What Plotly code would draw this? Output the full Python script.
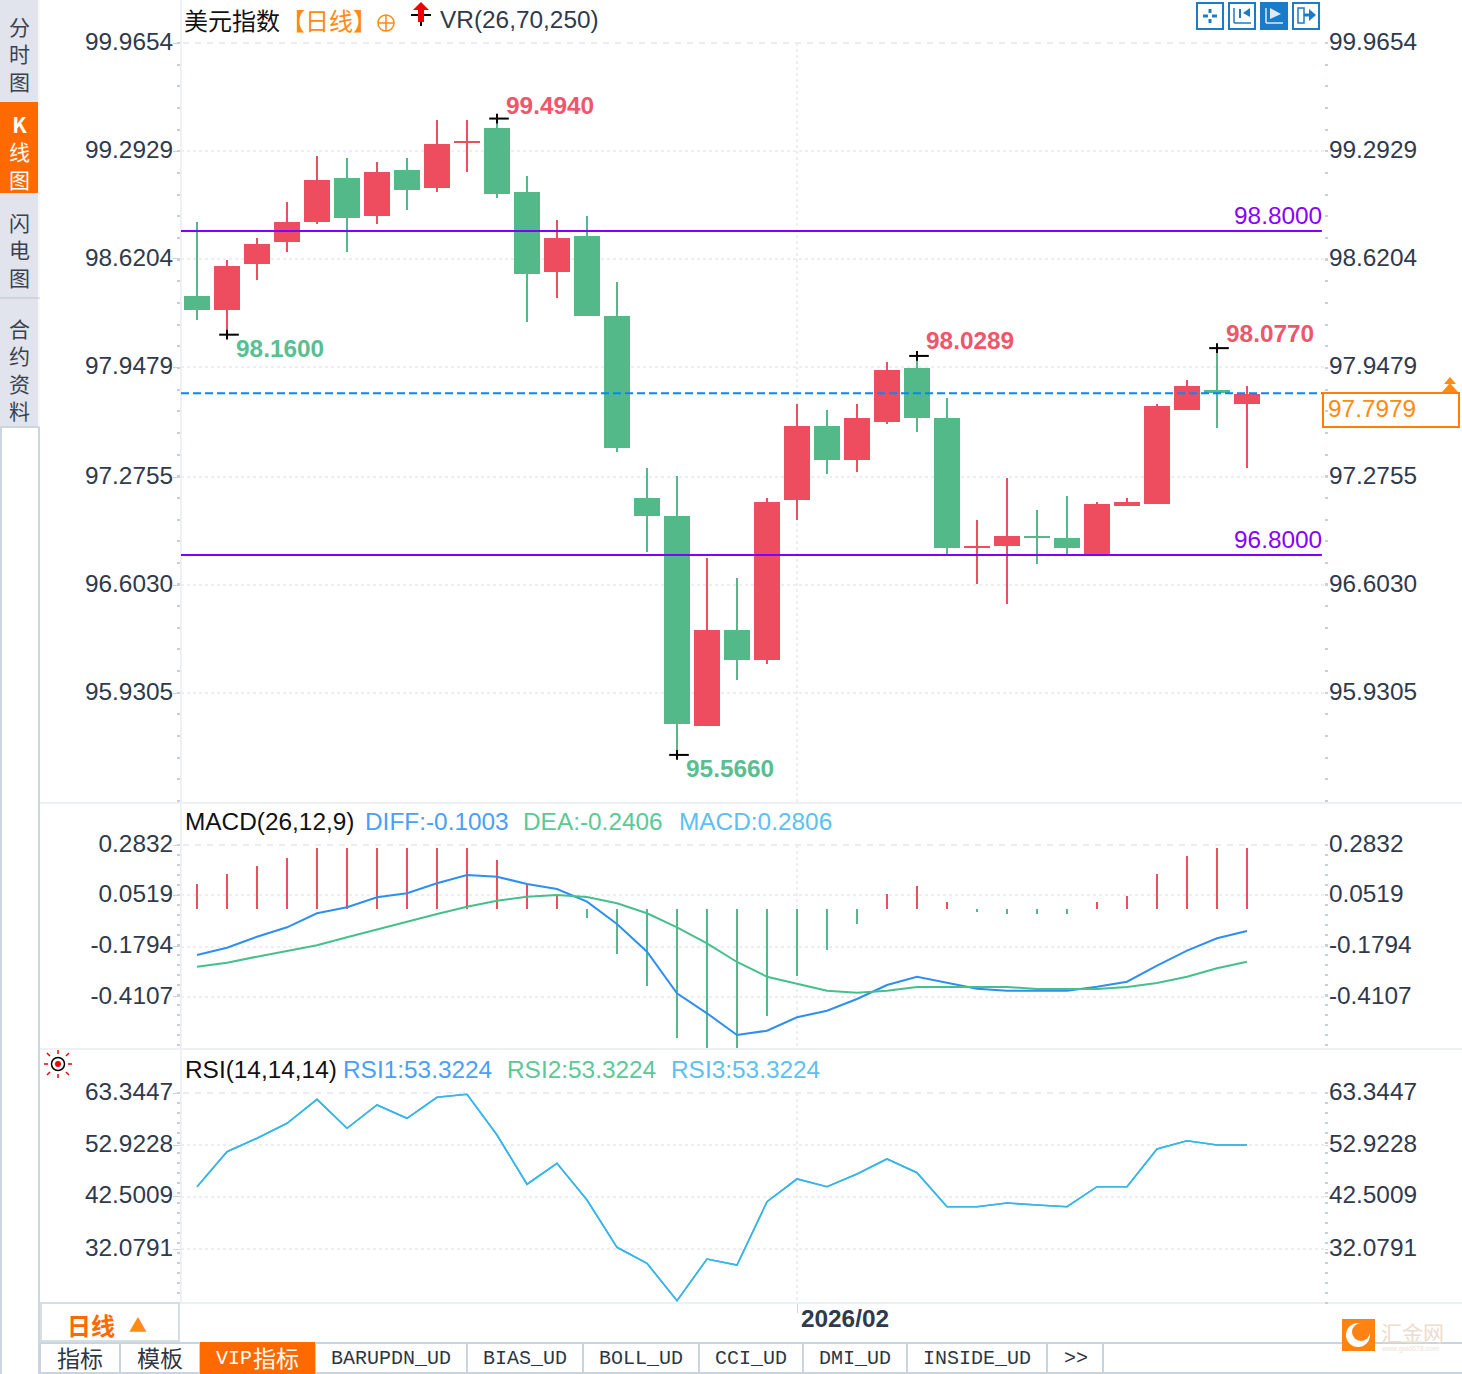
import plotly.graph_objects as go

W, H = 1462, 1374
ORANGE = "#ff6a00"
RED = "#ed4d5f"
GREEN = "#53b988"
TXT = "#2f3a4d"
SANS = "Liberation Sans, Arial, sans-serif"
CJK = "Noto Sans CJK SC, sans-serif"
MONO = "Liberation Mono, monospace"

# ---------- data ----------
idx = list(range(36))
opens = [98.3926,98.3185,98.6025,98.7383,98.8617,99.1210,98.8988,99.1704,99.0716,99.3488,99.4296,99.0346,98.5531,98.7630,98.2691,97.1457,97.0346,95.7506,96.3309,96.1580,97.1457,97.5901,97.3926,97.6272,97.9481,97.6395,96.8488,96.8617,96.9117,96.8988,96.8062,97.1086,97.1210,97.7012,97.8123,97.7383]
highs = [98.8556,98.6210,98.7568,98.9790,99.2630,99.2506,99.2259,99.2506,99.4852,99.4852,99.4940,99.1395,98.8679,98.8926,98.4852,97.3370,97.2877,96.7815,96.6580,97.1519,97.7321,97.6951,97.7321,97.9914,98.0289,97.7691,97.0160,97.2753,97.0778,97.1642,97.1272,97.1519,97.7321,97.8802,98.0770,97.8432]
lows = [98.2506,98.1600,98.4975,98.6704,98.8432,98.6704,98.8432,98.9296,99.0407,99.1642,99.0037,98.2383,98.3864,98.2815,97.4358,96.8185,95.5660,95.7444,96.0284,96.1272,97.0160,97.3000,97.3123,97.6086,97.5593,96.8000,96.6210,96.4975,96.7444,96.8000,96.8062,97.1086,97.1210,97.7012,97.5840,97.3370]
closes = [98.3185,98.5778,98.7136,98.8494,99.1086,98.8864,99.1580,99.0593,99.3309,99.3500,99.0346,98.5407,98.7506,98.2815,97.4667,97.0469,95.7630,96.3309,96.1580,97.1210,97.5901,97.3926,97.6395,97.9358,97.6519,96.8494,96.8500,96.9111,96.9105,96.8494,97.1086,97.1210,97.7136,97.8370,97.8062,97.7877]
level_lines = [98.8, 96.8]
last_price = 97.7979
extreme_idx = [1, 10, 16, 24, 34]
extreme_val = [98.1600, 99.4940, 95.5660, 98.0289, 98.0770]
price_tick_text = ["99.9654","99.2929","98.6204","97.9479","97.2755","96.6030","95.9305"]
price_tick_pos = [99.9605,99.2938,98.6272,97.9605,97.2815,96.6148,95.9481]

macd_hist = [0.1142,0.1598,0.1963,0.2329,0.2785,0.2785,0.2785,0.2785,0.2785,0.2785,0.2237,0.1142,0.0639,-0.0411,-0.2055,-0.3516,-0.5890,-0.6347,-0.6347,-0.4886,-0.3059,-0.1872,-0.0685,0.0685,0.1050,0.0320,-0.0137,-0.0228,-0.0228,-0.0228,0.0320,0.0594,0.1598,0.2420,0.2785,0.2785]
diff = [-0.2100,-0.1767,-0.1265,-0.0836,-0.0196,0.0078,0.0534,0.0717,0.1174,0.1553,0.1475,0.1142,0.0913,0.0333,-0.0685,-0.1950,-0.3849,-0.4763,-0.5753,-0.5557,-0.4945,-0.4644,-0.4110,-0.3470,-0.3091,-0.3365,-0.3639,-0.3731,-0.3731,-0.3731,-0.3548,-0.3320,-0.2589,-0.1904,-0.1338,-0.1003]
dea = [-0.2635,-0.2452,-0.2178,-0.1918,-0.1658,-0.1292,-0.0927,-0.0580,-0.0228,0.0105,0.0379,0.0562,0.0639,0.0548,0.0260,-0.0196,-0.0836,-0.1566,-0.2420,-0.3091,-0.3425,-0.3731,-0.3822,-0.3731,-0.3562,-0.3562,-0.3562,-0.3562,-0.3653,-0.3653,-0.3653,-0.3562,-0.3379,-0.3091,-0.2708,-0.2406]
macd_tick_text = ["0.2832","0.0519","-0.1794","-0.4107"]
macd_tick_pos = [0.2922,0.0639,-0.1721,-0.4018]

rsi = [44.97,51.98,54.67,57.67,62.48,56.67,61.34,58.67,62.88,63.48,55.33,45.45,49.66,42.30,32.82,29.61,22.12,30.47,29.27,41.96,46.51,44.97,47.51,50.52,47.77,40.96,40.96,41.70,41.30,40.96,44.97,44.97,52.52,54.18,53.32,53.32]
rsi_tick_text = ["63.3447","52.9228","42.5009","32.0791"]
rsi_tick_pos = [63.743,53.3224,42.96,32.48]

bottom_tabs = ["BARUPDN_UD","BIAS_UD","BOLL_UD","CCI_UD","DMI_UD","INSIDE_UD",">>"]
bottom_tab_cx = [391,525,641,751,855,977,1076]
bottom_seps = [40,120,200,315,467,583,699,803,907,1047,1103]

# ---------- helpers ----------
X = lambda p: p / W
Y = lambda p: 1 - p / H
shapes, anns = [], []

def rect(x0, y0, x1, y1, fill=None, line=None, lw=0, layer="above"):
    shapes.append(dict(type="rect", xref="paper", yref="paper", x0=X(x0), x1=X(x1), y0=Y(y0), y1=Y(y1),
                       fillcolor=fill or "rgba(0,0,0,0)", line=dict(color=line or "rgba(0,0,0,0)", width=lw), layer=layer))

def seg(x0, y0, x1, y1, color, lw=1, dash=None, layer="above"):
    shapes.append(dict(type="line", xref="paper", yref="paper", x0=X(x0), x1=X(x1), y0=Y(y0), y1=Y(y1),
                       line=dict(color=color, width=lw, dash=dash or "solid"), layer=layer))

def circ(cx, cy, r, fill=None, line=None, lw=0):
    shapes.append(dict(type="circle", xref="paper", yref="paper", x0=X(cx-r), x1=X(cx+r), y0=Y(cy+r), y1=Y(cy-r),
                       fillcolor=fill or "rgba(0,0,0,0)", line=dict(color=line or "rgba(0,0,0,0)", width=lw)))

def poly(points, fill):
    path = "M " + " L ".join(f"{X(a):.5f},{Y(b):.5f}" for a, b in points) + " Z"
    shapes.append(dict(type="path", xref="paper", yref="paper", path=path, fillcolor=fill, line=dict(width=0)))

def text(t, x, y, color=TXT, size=24.4, font=SANS, anchor="left"):
    anns.append(dict(text=t, xref="paper", yref="paper", x=X(x), y=Y(y), xanchor=anchor, yanchor="middle",
                     showarrow=False, font=dict(family=font, size=size, color=color), borderpad=0, borderwidth=0))

# ---------- axis geometry ----------
XL, XR = 181, 1324
x_rng = [(XL - 197) / 30, (XR - 197) / 30]
dom = lambda a, b: [1 - b / H, 1 - a / H]
main_dom, macd_dom, rsi_dom = dom(43, 802), dom(845, 1049), dom(1093, 1303)
main_rng = [95.2753, 99.9605]
macd_rng = [-0.6393, 0.2922]
rsi_rng = [21.659, 63.743]
GRID = "#eceef2"

fig = go.Figure()
fig.add_trace(go.Candlestick(
    x=idx, open=opens, high=highs, low=lows, close=closes, xaxis="x", yaxis="y", whiskerwidth=0,
    increasing=dict(line=dict(color=RED, width=2), fillcolor=RED),
    decreasing=dict(line=dict(color=GREEN, width=2), fillcolor=GREEN), showlegend=False, hoverinfo="skip"))
fig.add_trace(go.Scatter(x=[i + 0.067 for i in extreme_idx], y=extreme_val, mode="markers", xaxis="x", yaxis="y",
                         marker=dict(symbol="line-ew", size=14, line=dict(color="#000000", width=2)),
                         showlegend=False, hoverinfo="skip"))
fig.add_trace(go.Scatter(x=extreme_idx, y=extreme_val, mode="markers", xaxis="x", yaxis="y",
                         marker=dict(symbol="line-ns", size=7, line=dict(color="#000000", width=2)),
                         showlegend=False, hoverinfo="skip"))
for lv in level_lines:
    fig.add_trace(go.Scatter(x=[x_rng[0], x_rng[1] - 0.07], y=[lv, lv], mode="lines", xaxis="x", yaxis="y2",
                             line=dict(color="#8000ff", width=2), showlegend=False, hoverinfo="skip"))
fig.add_trace(go.Scatter(x=x_rng, y=[last_price, last_price], mode="lines", xaxis="x", yaxis="y2",
                         line=dict(color="#0a84ff", width=2, dash="8px,4px"), showlegend=False, hoverinfo="skip"))

fig.add_trace(go.Bar(x=idx, y=macd_hist, width=0.067, xaxis="x2", yaxis="y3",
                     marker=dict(color=[RED if v > 0 else GREEN for v in macd_hist], line=dict(width=0)),
                     showlegend=False, hoverinfo="skip"))
fig.add_trace(go.Scatter(x=idx, y=diff, mode="lines", xaxis="x2", yaxis="y3",
                         line=dict(color="#2e8ff0", width=2), showlegend=False, hoverinfo="skip"))
fig.add_trace(go.Scatter(x=idx, y=dea, mode="lines", xaxis="x2", yaxis="y4",
                         line=dict(color="#45c08a", width=2), showlegend=False, hoverinfo="skip"))
fig.add_trace(go.Scatter(x=idx, y=rsi, mode="lines", xaxis="x3", yaxis="y5",
                         line=dict(color="#38b5e8", width=1.6), showlegend=False, hoverinfo="skip"))
fig.add_trace(go.Scatter(x=idx, y=rsi, mode="lines", xaxis="x3", yaxis="y6",
                         line=dict(color="#38b5e8", width=1.6), showlegend=False, hoverinfo="skip"))

def xax(anchor, **kw):
    return dict(domain=[X(XL), X(XR)], range=x_rng, anchor=anchor, fixedrange=True, tickmode="array", tickvals=[20],
                ticktext=[""], showgrid=True, griddash="dot", gridcolor=GRID, gridwidth=2, ticks="", zeroline=False,
                showline=False, rangeslider=dict(visible=False), **kw)

def yax(domain, rng, ticktext, tickpos, minor_d, side, anchor, overlay=None):
    a = dict(domain=domain, range=rng, tickmode="array", tickvals=tickpos, ticktext=ticktext, side=side, anchor=anchor,
             fixedrange=True, zeroline=False, showline=False, showgrid=(side == "left"), griddash="dot", gridcolor=GRID,
             gridwidth=2, ticks="outside", ticklen=7 if side == "left" else 3, tickcolor="#ccd3da", tickwidth=1,
             ticklabelshift=-2, ticklabelstandoff=-5 if side == "left" else -4,
             tickfont=dict(family=SANS, size=24.4, color=TXT),
             minor=dict(ticks="outside", ticklen=3, tickwidth=2, tickcolor="#c8cfd7", tick0=tickpos[0], dtick=minor_d, showgrid=False))
    if overlay:
        a["overlaying"] = overlay
    return a

fig.update_layout(
    width=W, height=H, margin=dict(l=0, r=0, t=0, b=0, autoexpand=False), paper_bgcolor="#ffffff", plot_bgcolor="rgba(0,0,0,0)",
    showlegend=False, boxmode="overlay", boxgap=0.2, boxgroupgap=0, bargap=0, barmode="overlay",
    xaxis=xax("y", showticklabels=False),
    xaxis2=xax("y3", showticklabels=False),
    xaxis3=dict(domain=[X(XL), X(XR)], range=x_rng, anchor="y5", fixedrange=True, tickmode="array", tickvals=[20],
                ticktext=["<b>2026/02</b>"], showgrid=True, griddash="dot", gridcolor=GRID, gridwidth=2, zeroline=False,
                showline=False, ticks="outside", ticklen=9, tickcolor="#ccd3da", ticklabelshift=48, ticklabelstandoff=-15,
                tickfont=dict(family=SANS, size=24.4, color=TXT)),
    yaxis=yax(main_dom, main_rng, price_tick_text, price_tick_pos, 0.1337, "left", "x"),
    yaxis2=yax(main_dom, main_rng, price_tick_text, price_tick_pos, 0.1337, "right", "x", "y"),
    yaxis3=yax(macd_dom, macd_rng, macd_tick_text, macd_tick_pos, 0.0457, "left", "x2"),
    yaxis4=yax(macd_dom, macd_rng, macd_tick_text, macd_tick_pos, 0.0457, "right", "x2", "y3"),
    yaxis5=yax(rsi_dom, rsi_rng, rsi_tick_text, rsi_tick_pos, 2.004, "left", "x3"),
    yaxis6=yax(rsi_dom, rsi_rng, rsi_tick_text, rsi_tick_pos, 2.004, "right", "x3", "y5"),
)

# ---------- panel frame ----------
FRAME = "#edf1f5"
seg(181, 0, 181, 1303, FRAME, 2, layer="below")
for py in (803, 1049, 1303):
    seg(40, py, W, py, FRAME, 2, layer="below")
for py in (43, 845, 1093):
    seg(183, py, 1321, py, "#eaeef2", 2, dash="6px,6px", layer="below")

# ---------- value labels on the price chart ----------
offs = {1: (7, -14, "#58bf92"), 10: (7, 13, "#f0566a"), 16: (7, -14, "#58bf92"), 24: (7, 15, "#f0566a"), 34: (7, 15, "#f0566a")}
for i, v in zip(extreme_idx, extreme_val):
    dx, dy, col = offs[i]
    anns.append(dict(text=f"<b>{v:.4f}</b>", xref="x", yref="y", x=i, y=v, xanchor="left", yanchor="middle", xshift=dx, yshift=dy,
                     showarrow=False, font=dict(family=SANS, size=24.4, color=col)))
for lv, cy in zip(level_lines, (215, 539)):
    text(f"{lv:.4f}", 1322, cy, "#8a00ff", anchor="right")

# last price box
rect(1323, 393, 1459, 427, None, "#ff7f0a", 2)
text(f"{last_price:.4f}", 1328, 409, "#ff8a14")
poly([(1450, 377), (1456, 384), (1444, 384)], "#ff8a14")
poly([(1450, 383), (1458, 392), (1442, 392)], "#ff8a14")

# ---------- header texts ----------
text("美元指数", 184, 19, "#111111", 24, CJK)
text("【日线】", 281, 19, "#ff8a14", 24, CJK)
circ(386, 23, 8, None, "#ff8a14", 1.5)
seg(378, 23, 394, 23, "#ff8a14", 1.5)
seg(386, 15, 386, 31, "#ff8a14", 1.5)
seg(411, 15, 431, 15, "#000000", 2)
seg(421, 15, 421, 26, "#000000", 2)
poly([(421, 2), (429, 10), (424, 10), (424, 22), (418, 22), (418, 10), (413, 10)], "#f00000")
text("VR(26,70,250)", 440, 19, TXT)

text("MACD(26,12,9)", 185, 821, "#111111")
text("DIFF:-0.1003", 365, 821, "#4aa0f5")
text("DEA:-0.2406", 523, 821, "#5cc896")
text("MACD:0.2806", 679, 821, "#5cc0f0")
text("RSI(14,14,14)", 185, 1069, "#111111")
text("RSI1:53.3224", 343, 1069, "#4aa0f5")
text("RSI2:53.3224", 507, 1069, "#5cc896")
text("RSI3:53.3224", 671, 1069, "#5cc0f0")

# ---------- buttons top right ----------
BTN = "#1a7cc8"
for i, x0 in enumerate((1197, 1229, 1261, 1293)):
    rect(x0, 3, x0 + 26, 29, BTN if i == 2 else "#ffffff", BTN, 2)
c = 1210
for a, b, d, e in ((c-7, 16, c-2, 16), (c+2, 16, c+7, 16), (c, 9, c, 13), (c, 19, c, 23)):
    seg(a, b, d, e, BTN, 3)
seg(1234, 8, 1234, 23, BTN, 1.5); seg(1234, 23, 1251, 23, BTN, 1.5)
seg(1240, 9, 1240, 18, BTN, 2); poly([(1250, 8), (1250, 17), (1243, 13)], BTN)
seg(1266, 8, 1266, 23, "#dcebf7", 1.5); seg(1266, 23, 1283, 23, "#dcebf7", 1.5)
poly([(1270, 8), (1270, 19), (1281, 14)], "#dcebf7")
rect(1298, 8, 1304, 23, None, BTN, 1.5)
seg(1304, 15, 1310, 15, BTN, 3); poly([(1309, 9), (1309, 21), (1316, 15)], BTN)

# ---------- left sidebar ----------
rect(0, 0, 38, 427, "#e1e4ec", layer="below")
rect(0, 102, 38, 193, ORANGE)
seg(0, 298, 40, 298, "#ced5dc", 2)
seg(0, 427, 40, 427, "#ced5dc", 2)
seg(1, 427, 1, H, "#ccd5de", 2)
seg(39, 427, 39, H, "#ccd5de", 2)
seg(39, 0, 39, 427, "#eef1f5", 1)
text("分<br>时<br>图", 19, 54, "#3a4250", 21, CJK, "center")
text("<b>K</b><br>线<br>图", 19, 152, "#ffffff", 21, CJK, "center")
text("闪<br>电<br>图", 19, 250, "#3a4250", 21, CJK, "center")
text("合<br>约<br>资<br>料", 19, 369, "#3a4250", 21, CJK, "center")

# sun icon
circ(58, 1064, 6.5, None, "#000000", 1.5)
circ(58, 1064, 3, "#f00000")
for a, b, d, e in ((44, 1064, 48, 1064), (68, 1064, 72, 1064), (58, 1050, 58, 1054), (58, 1074, 58, 1078),
                   (47, 1053, 50, 1056), (66, 1072, 69, 1075), (69, 1053, 66, 1056), (50, 1072, 47, 1075)):
    seg(a, b, d, e, "#f00000", 1.5)

# ---------- bottom bars ----------
rect(41, 1303, 179, 1341, "#ffffff", "#d5dde5", 2)
text("<b>日线</b>", 67, 1324, ORANGE, 24, CJK)
text("▲", 138, 1324, "#ff8a14", 18, CJK, "center")
seg(40, 1343, W, 1343, "#c8d4df", 2)
seg(40, 1373, W, 1373, "#c8d4df", 2)
for sx in bottom_seps:
    seg(sx, 1343, sx, 1374, "#c8d4df", 2)
rect(200, 1342, 315, 1374, ORANGE)
text("指标", 80, 1357, "#2e3644", 23, CJK, "center")
text("模板", 160, 1357, "#2e3644", 23, CJK, "center")
text("VIP", 216, 1358, "#ffffff", 20, MONO)
text("指标", 253, 1357, "#ffffff", 23, CJK)
for t, cx in zip(bottom_tabs, bottom_tab_cx):
    text(t, cx, 1358, "#2e3644", 20, MONO, "center")

# watermark
shapes.append(dict(type="rect", xref="paper", yref="paper", x0=X(1342), x1=X(1375), y0=Y(1351), y1=Y(1319),
                   fillcolor="#ff8312", line=dict(width=0)))
circ(1358, 1335, 12, "#ffffff")
circ(1361, 1332, 9, "#ff8312")
text("汇金网", 1381, 1332, "#ecdccd", 21, CJK)
text("www.gold678.com", 1381, 1349, "#eee3d8", 7, SANS)

fig.update_layout(shapes=shapes, annotations=anns)
fig.write_html("out.html", config=dict(displayModeBar=False),
               post_script="document.body.style.margin='0';document.body.style.overflow='hidden';")
